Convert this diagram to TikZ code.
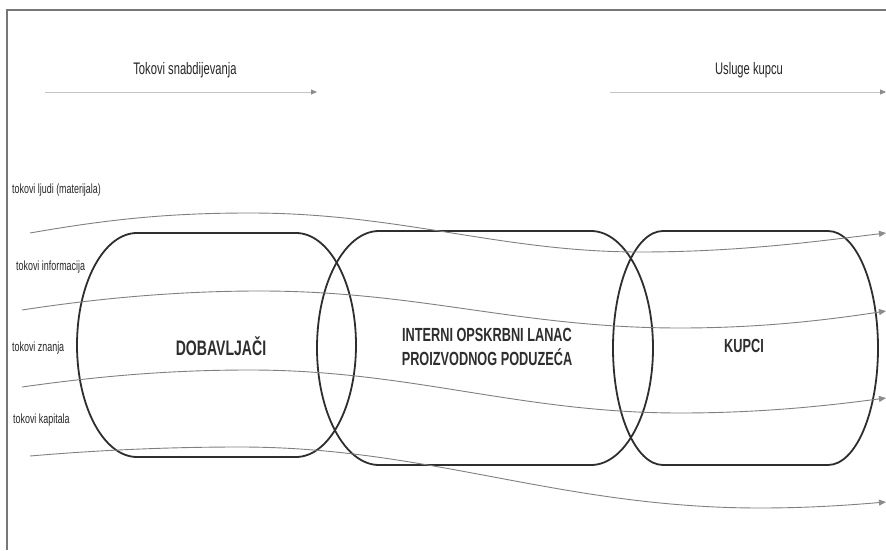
\documentclass[tikz,border=0pt]{standalone}
\usepackage{fontspec}
\setmainfont{Liberation Sans}[FakeStretch=0.67]
\usetikzlibrary{arrows.meta}
\definecolor{frameC}{HTML}{777777}
\definecolor{shapeC}{HTML}{2E2E2E}
\definecolor{flowC}{HTML}{808080}
\definecolor{headC}{HTML}{C4C4C4}
\definecolor{tipC}{HTML}{8C8C8C}
\tikzset{
  pill/.style={draw=shapeC, line width=1.8pt},
  flow/.style={draw=flowC, line width=0.9pt, -{Triangle[length=7pt,width=6pt,color=tipC,fill=tipC]}},
  headarrow/.style={draw=headC, line width=0.9pt, -{Triangle[length=6pt,width=5pt,color=tipC,fill=tipC]}},
  flowlabel/.style={anchor=west, inner sep=0pt, font=\fontsize{13.3}{15}\selectfont, text=black!85},
  headlabel/.style={inner sep=0pt, font=\fontsize{16.7}{19}\selectfont, text=black!85},
  bigtxt/.style={inner sep=0pt, align=center, font=\bfseries\fontsize{19}{23.5}\selectfont, text=shapeC},
}
\begin{document}
\begin{tikzpicture}[x=1pt,y=1pt]
\useasboundingbox (0,0) rectangle (886,550);
\fill[white] (0,0) rectangle (886,550);
% frame
\draw[frameC, line width=1.2pt] (886,540) -- (7,540) -- (7,0);
% headers
\node[headlabel] (h1) at (185,480) {Tokovi snabdijevanja};
\node[headlabel] (h2) at (749,480) {Usluge kupcu};
\coordinate (h1s) at (45,458); \coordinate (h1e) at (317,458);
\coordinate (h2s) at (610,458); \coordinate (h2e) at (886,458);
\draw[headarrow] (h1s) -- (h1e);
\draw[headarrow] (h2s) -- (h2e);
% containers
\draw[pill] (137,317) -- (296,317) arc[start angle=90,end angle=-90,x radius=60,y radius=112]
  -- (137,93) arc[start angle=270,end angle=90,x radius=60,y radius=112] -- cycle;
\draw[pill] (379,319) -- (591,319) arc[start angle=90,end angle=-90,x radius=62,y radius=117]
  -- (379,85) arc[start angle=270,end angle=90,x radius=62,y radius=117] -- cycle;
\draw[pill] (663,319) -- (828,319) arc[start angle=90,end angle=-90,x radius=50,y radius=117]
  -- (663,85) arc[start angle=270,end angle=90,x radius=50,y radius=117] -- cycle;
\node[bigtxt, font=\bfseries\fontsize{21}{23.5}\selectfont] (dob) at (221,204) {DOBAVLJAČI};
\node[bigtxt] (int) at (487,203) {INTERNI OPSKRBNI LANAC\\PROIZVODNOG PODUZEĆA};
\node[bigtxt] (kup) at (744,204) {KUPCI};
% flow labels
\node[flowlabel] (l1) at (12,360) {tokovi ljudi (materijala)};
\node[flowlabel] (l2) at (16,283) {tokovi informacija};
\node[flowlabel] (l3) at (12,202) {tokovi znanja};
\node[flowlabel] (l4) at (13,130) {tokovi kapitala};
% flow lines
\coordinate (f1s) at (30,317); \coordinate (f1e) at (886,317);
\coordinate (f2s) at (22,240); \coordinate (f2e) at (886,239);
\coordinate (f3s) at (22,163); \coordinate (f3e) at (886,152);
\coordinate (f4s) at (30,94);  \coordinate (f4e) at (886,48);
\draw[flow] (f1s) .. controls (110,331) and (170,337) .. (250,337)
  .. controls (400,337) and (500,298) .. (640,298)
  .. controls (740,298) and (820,309) .. (f1e);
\draw[flow] (f2s) .. controls (100,252) and (180,259) .. (260,259)
  .. controls (420,259) and (520,222) .. (680,222)
  .. controls (770,222) and (840,232) .. (f2e);
\draw[flow] (f3s) .. controls (100,174) and (170,180) .. (250,180)
  .. controls (410,180) and (520,137) .. (680,137)
  .. controls (770,137) and (840,146) .. (f3e);
\draw[flow] (f4s) .. controls (100,100) and (170,103) .. (240,103)
  .. controls (430,103) and (560,42) .. (760,42)
  .. controls (810,42) and (850,45) .. (f4e);
\end{tikzpicture}
\end{document}
